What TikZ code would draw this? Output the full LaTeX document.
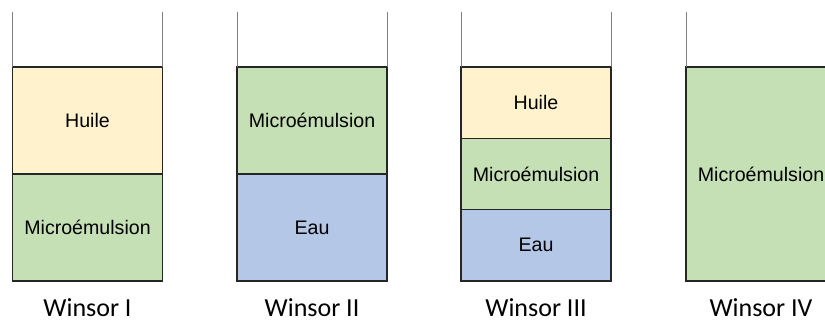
\documentclass[tikz,border=0pt]{standalone}
\usepackage{fontspec}
\newfontfamily\boxfont{Liberation Sans}
\newfontfamily\labelfont{Carlito}
\usetikzlibrary{positioning}
\definecolor{huile}{HTML}{FFF2CC}
\definecolor{micro}{HTML}{C5E0B4}
\definecolor{eau}{HTML}{B4C7E7}
\definecolor{wallgray}{HTML}{7F7F7F}
\tikzset{
  layer/.style={draw=black!85, line width=1.3pt, minimum width=150pt, inner sep=0pt, outer sep=0pt,
    font=\boxfont\fontsize{19.6}{23}\selectfont, text=black},
  wall/.style={draw=wallgray, line width=0.8pt},
  winsor/.style={font=\labelfont\fontsize{26}{30}\selectfont, text=black}
}
\begin{document}
\begin{tikzpicture}[x=1pt,y=-1pt]
  \clip (0,0) rectangle (825,324);
  \coordinate (top) at (0,12);
  \coordinate (base) at (0,308);

  % Winsor I
  \node(h1)[layer,fill=huile,minimum height=107pt,anchor=north west] at (12.5,67) {Huile};
  \node(m1)[layer,fill=micro,minimum height=107pt,below=0pt of h1] {Microémulsion};
  \node(l1)[winsor] at (m1.south |- base) {Winsor I};

  % Winsor II
  \node(m2)[layer,fill=micro,minimum height=107pt,anchor=north west] at (237,67) {Microémulsion};
  \node(e2)[layer,fill=eau,minimum height=107pt,below=0pt of m2] {Eau};
  \node(l2)[winsor] at (e2.south |- base) {Winsor II};

  % Winsor III
  \node(h3)[layer,fill=huile,minimum height=71.3pt,anchor=north west] at (461,67) {Huile};
  \node(m3)[layer,fill=micro,minimum height=71.3pt,below=0pt of h3] {Microémulsion};
  \node(e3)[layer,fill=eau,minimum height=71.3pt,below=0pt of m3] {Eau};
  \node(l3)[winsor] at (e3.south |- base) {Winsor III};

  % Winsor IV
  \node(m4)[layer,fill=micro,minimum height=214pt,anchor=north west] at (686,67) {Microémulsion};
  \node(l4)[winsor] at (m4.south |- base) {Winsor IV};

  % walls above the layers
  \foreach \t in {h1,m2,h3,m4}{
    \draw[wall] (\t.north west) -- (\t.north west |- top);
    \draw[wall] (\t.north east) -- (\t.north east |- top);
  }
\end{tikzpicture}
\end{document}
